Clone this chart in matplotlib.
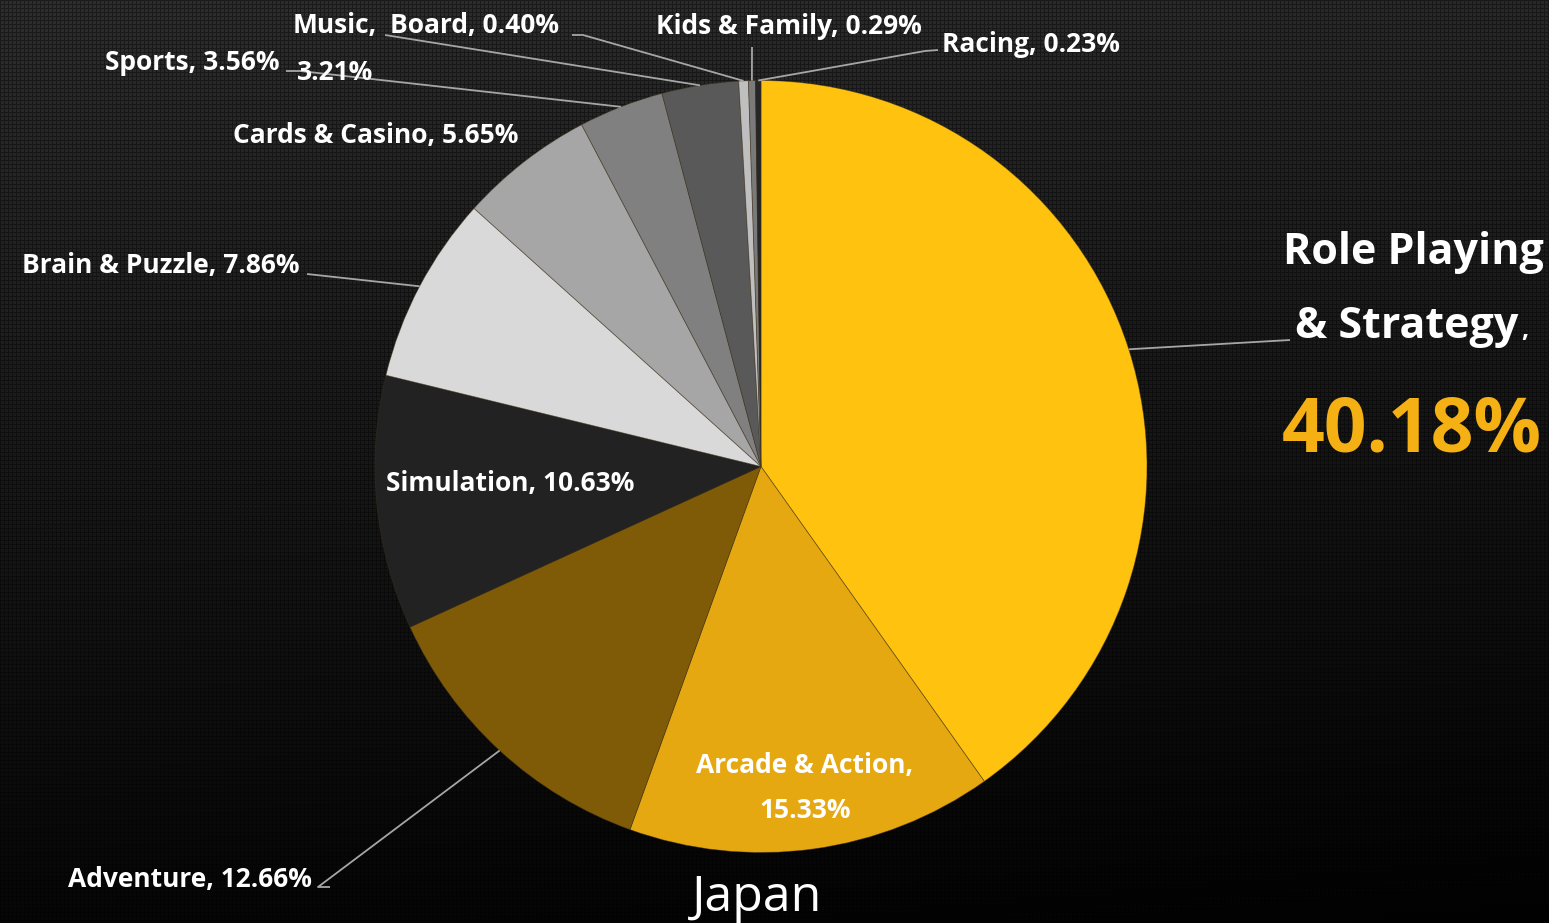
import numpy as np
import matplotlib.pyplot as plt

# Genre share of games, Japan
genres = ['Role Playing & Strategy', 'Arcade & Action', 'Adventure', 'Simulation',
          'Brain & Puzzle', 'Cards & Casino', 'Sports', 'Music', 'Board',
          'Kids & Family', 'Racing']
shares = [40.18, 15.33, 12.66, 10.63, 7.86, 5.65, 3.56, 3.21, 0.40, 0.29, 0.23]
colors = ['#FFC20E', '#E6A811', '#805B07', '#222222', '#D9D9D9', '#A6A6A6',
          '#808080', '#595959', '#BFBFBF', '#7A7A7A', '#262626']
title = 'Japan'

W, H = 1549, 923
cx, cy, R = 761, 466.5, 386   # pie centre/radius in pixels (y from top)

fig = plt.figure(figsize=(W / 100, H / 100), dpi=100)
ax = fig.add_axes([0, 0, 1, 1])

# Dark textured background: vertical gradient with a fine woven grid
yy, xx = np.mgrid[0:H, 0:W]
base = 0.18 - 0.155 * (yy / H) ** 0.9 - 0.02 * (xx / W)
weave = ((xx % 4 == 0) | (yy % 4 == 0)).astype(float)
bg = np.clip(base * (1 - 0.4 * weave), 0, 1)
ax.imshow(np.dstack([bg, bg, bg]), extent=(0, W, 0, H), origin='upper',
          interpolation='nearest', zorder=0)

ax.pie(shares, colors=colors, startangle=90, counterclock=False,
       center=(cx, H - cy), radius=R,
       wedgeprops=dict(edgecolor=(0.25, 0.2, 0.1, 0.5), linewidth=0.6))

ax.set_xlim(0, W)
ax.set_ylim(0, H)
ax.set_aspect('equal')
ax.axis('off')


def edge_point(i):
    # point on the pie rim at the middle of wedge i (pixel coords, y from top)
    before = sum(shares[:i])
    frac = (before + shares[i] / 2) / sum(shares)
    ang = np.deg2rad(90 - 360 * frac)
    return cx + R * np.cos(ang), cy - R * np.sin(ang)


def leader(i, pts):
    ex, ey = edge_point(i)
    xs = [p[0] for p in pts] + [ex]
    ys = [H - p[1] for p in pts] + [H - ey]
    ax.plot(xs, ys, color='#A6A6A6', lw=1.3, zorder=3, solid_capstyle='butt')


font = 'Open Sans'
lab = dict(color='white', fontsize=19, fontweight='bold', family=font, zorder=4)


def pct(i):
    return f'{shares[i]:.2f}%'


# Leader lines
leader(0, [(1290, 340)])
leader(2, [(330, 887), (318, 887)])
leader(4, [(307, 274)])
leader(6, [(286, 71), (300, 71)])
leader(7, [(385, 35)])
leader(8, [(572, 35), (583, 35)])
leader(9, [(752, 47)])
leader(10, [(938, 50), (925, 51)])

# Labels
ax.text(1413, H - 252, 'Role Playing', ha='center', va='center', color='white',
        fontsize=31, fontweight='bold', family=font, zorder=4)
t = ax.text(1407, H - 327, '& Strategy', ha='center', va='center', color='white',
            fontsize=31, fontweight='bold', family=font, zorder=4)
ax.annotate(',', xy=(1.0, 0.26), xycoords=t, xytext=(2, 0), textcoords='offset points',
            ha='left', va='baseline', color='white', fontsize=18, fontweight='bold',
            family=font, zorder=4)
ax.text(1412, H - 432, pct(0), ha='center', va='center', color='#F5B014',
        fontsize=54, fontweight='bold', family=font, zorder=4)

ax.text(805, H - 765, genres[1] + ',', ha='center', va='center', **lab)
ax.text(805, H - 811, pct(1), ha='center', va='center', **lab)
ax.text(312, H - 880, f'{genres[2]}, {pct(2)}', ha='right', va='center', **lab)
ax.text(386, H - 483, f'{genres[3]}, {pct(3)}', ha='left', va='center', **lab)
ax.text(300, H - 266, f'{genres[4]}, {pct(4)}', ha='right', va='center', **lab)
ax.text(518, H - 136, f'{genres[5]}, {pct(5)}', ha='right', va='center', **lab)
ax.text(280, H - 63, f'{genres[6]}, {pct(6)}', ha='right', va='center', **lab)
ax.text(335, H - 26, genres[7] + ',', ha='center', va='center', **lab)
ax.text(335, H - 73, pct(7), ha='center', va='center', **lab)
ax.text(390, H - 26, f'{genres[8]}, {pct(8)}', ha='left', va='center', **lab)
ax.text(789, H - 27, f'{genres[9]}, {pct(9)}', ha='center', va='center', **lab)
ax.text(942, H - 45, f'{genres[10]}, {pct(10)}', ha='left', va='center', **lab)

ax.text(757, H - 898, title, ha='center', va='center', color='white',
        fontsize=36, fontweight='normal', family=font, zorder=4)

fig.savefig('out.png', dpi=100)
